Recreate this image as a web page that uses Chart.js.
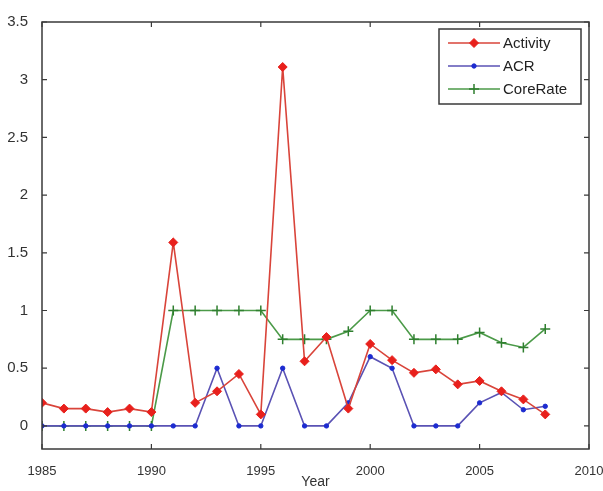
<!DOCTYPE html>
<html><head><meta charset="utf-8">
<script src="https://cdn.jsdelivr.net/npm/chart.js@4/dist/chart.umd.min.js"></script>
<style>html,body{margin:0;padding:0;background:#fff}#wrap{width:603px;height:491px}</style>
</head><body><div id="wrap"><canvas id="c" width="603" height="491"></canvas></div>
<script>
const years = [1985,1986,1987,1988,1989,1990,1991,1992,1993,1994,1995,1996,1997,1998,1999,2000,2001,2002,2003,2004,2005,2006,2007,2008];
const activity = [0.20,0.15,0.15,0.12,0.15,0.12,1.59,0.20,0.30,0.45,0.10,3.11,0.56,0.77,0.15,0.71,0.57,0.46,0.49,0.36,0.39,0.30,0.23,0.10];
const acr      = [0,0,0,0,0,0,0,0,0.50,0,0,0.50,0,0,0.20,0.60,0.50,0,0,0,0.20,0.29,0.14,0.17];
const coreRate = [0,0,0,0,0,0,1,1,1,1,1,0.75,0.75,0.75,0.82,1,1,0.75,0.75,0.75,0.81,0.72,0.68,0.84];
const xTicks = [1985,1990,1995,2000,2005,2010];
const yTicks = [0,0.5,1,1.5,2,2.5,3,3.5];
const seriesNames = ['Activity','ACR','CoreRate'];

const FONT = '"Liberation Sans", Arial, sans-serif';
const pts = arr => arr.map((v,i)=>({x:years[i], y:v}));

const frame = {
  id:'frame',
  afterDraw(chart){
    const {ctx, chartArea:a, scales:{x,y}} = chart;
    ctx.save();
    ctx.strokeStyle='#3a3a3a'; ctx.lineWidth=1.5;
    ctx.strokeRect(a.left, a.top, a.right-a.left, a.bottom-a.top);
    ctx.lineWidth=1.2;
    const L=5;
    x.ticks.forEach(t=>{const p=x.getPixelForValue(t.value);
      ctx.beginPath();ctx.moveTo(p,a.bottom);ctx.lineTo(p,a.bottom-L);ctx.moveTo(p,a.top);ctx.lineTo(p,a.top+L);ctx.stroke();});
    y.ticks.forEach(t=>{const p=y.getPixelForValue(t.value);
      ctx.beginPath();ctx.moveTo(a.left,p);ctx.lineTo(a.left+L,p);ctx.moveTo(a.right,p);ctx.lineTo(a.right-L,p);ctx.stroke();});
    // legend
    const bx=439, by=29, bw=142, bh=75;
    ctx.fillStyle='#fff'; ctx.fillRect(bx,by,bw,bh);
    ctx.strokeStyle='#3a3a3a'; ctx.lineWidth=1.5; ctx.strokeRect(bx,by,bw,bh);
    const rows=[43,66,89];
    chart.data.datasets.forEach((ds,i)=>{
      const yy=rows[i];
      ctx.strokeStyle=ds.borderColor; ctx.lineWidth=1.6;
      ctx.beginPath();ctx.moveTo(448,yy);ctx.lineTo(500,yy);ctx.stroke();
      ctx.fillStyle=ds.pointBackgroundColor; ctx.strokeStyle=ds.pointBorderColor; ctx.lineWidth=ds.pointBorderWidth;
      Chart.helpers.drawPoint(ctx,{pointStyle:ds.pointStyle,radius:ds.pointRadius,borderWidth:ds.pointBorderWidth},474,yy);
      ctx.fillStyle='#222'; ctx.font='15px '+FONT; ctx.textBaseline='middle'; ctx.textAlign='left';
      ctx.fillText(ds.label,503,yy+1);
    });
    ctx.restore();
  }
};

new Chart(document.getElementById('c'),{
  type:'line',
  data:{datasets:[
    {label:seriesNames[0],data:pts(activity),borderColor:'#d9443a',borderWidth:1.6,pointStyle:'rectRot',pointRadius:4.5,pointBackgroundColor:'#e8201c',pointBorderColor:'#e8201c',pointBorderWidth:1,tension:0},
    {label:seriesNames[1],data:pts(acr),borderColor:'#5a52b4',borderWidth:1.6,pointStyle:'circle',pointRadius:2.2,pointBackgroundColor:'#1c2bd0',pointBorderColor:'#1c2bd0',pointBorderWidth:1,tension:0},
    {label:seriesNames[2],data:pts(coreRate),borderColor:'#4b9a48',borderWidth:1.6,pointStyle:'cross',pointRadius:5,pointBackgroundColor:'#2f7f2f',pointBorderColor:'#2f7f2f',pointBorderWidth:1.5,tension:0}
  ]},
  options:{
    responsive:false, animation:false, devicePixelRatio:1,
    layout:{padding:{top:22,right:14,left:0,bottom:0}},
    plugins:{legend:{display:false},tooltip:{enabled:false}},
    scales:{
      x:{type:'linear',min:1985,max:2010,
        afterBuildTicks:s=>{s.ticks=xTicks.map(v=>({value:v}));},
        afterFit:s=>{s.height=42;s.paddingLeft=0;s.paddingRight=0;},
        grid:{display:false},border:{display:false},
        ticks:{callback:v=>String(v),color:'#333',font:{family:FONT,size:13},padding:7,maxRotation:0},
        title:{display:true,text:'Year',color:'#333',font:{family:FONT,size:14},padding:{top:0,bottom:0}}
      },
      y:{type:'linear',min:-0.2,max:3.5,
        afterBuildTicks:s=>{s.ticks=yTicks.map(v=>({value:v}));},
        afterFit:s=>{s.width=42;s.paddingTop=0;s.paddingBottom=0;},
        grid:{display:false},border:{display:false},
        ticks:{callback:v=>String(v),color:'#333',font:{family:FONT,size:15},padding:6}
      }
    }
  },
  plugins:[frame]
});
</script></body></html>
